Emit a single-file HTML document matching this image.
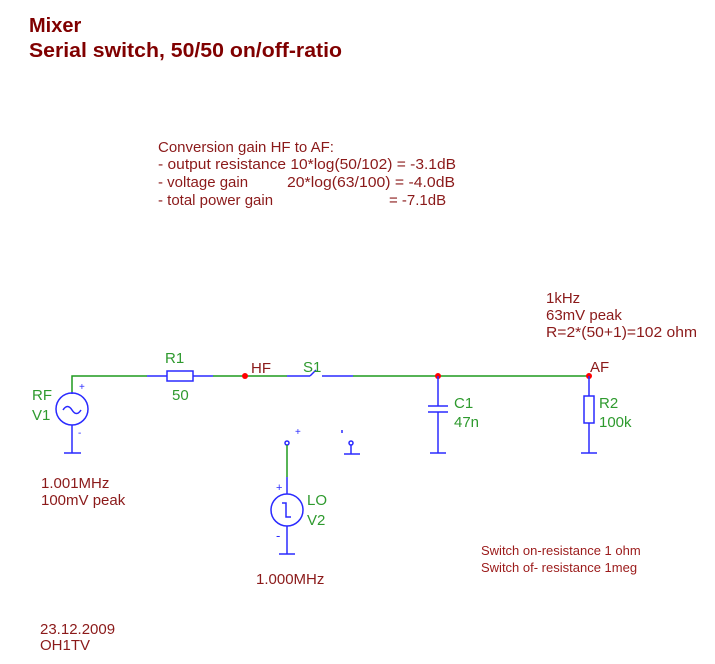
<!DOCTYPE html>
<html><head><meta charset="utf-8"><style>
html,body{margin:0;padding:0;background:#fff;}
svg{display:block;font-family:"Liberation Sans",Arial,sans-serif;}
.r{fill:#8b1a1a;font-size:15px;}
.g{fill:#2e9a2e;font-size:15px;}
.s{fill:#9b1a1a;font-size:13px;}
.b{stroke:#2a2aff;stroke-width:1.5;fill:none;}
.w{stroke:#1f9a1f;stroke-width:1.5;fill:none;}
</style></head><body>
<svg width="715" height="664" viewBox="0 0 715 664">
<text x="29" y="32" style="fill:#800000;font-size:20px;font-weight:bold">Mixer</text>
<text x="29" y="57" style="fill:#800000;font-size:20px;font-weight:bold" textLength="313" lengthAdjust="spacingAndGlyphs">Serial switch, 50/50 on/off-ratio</text>
<text class="r" x="158" y="152">Conversion gain HF to AF:</text>
<text class="r" x="158" y="169" textLength="298" lengthAdjust="spacingAndGlyphs">- output resistance 10*log(50/102) = -3.1dB</text>
<text class="r" x="158" y="187">- voltage gain</text>
<text class="r" x="287" y="187" textLength="168" lengthAdjust="spacingAndGlyphs">20*log(63/100) = -4.0dB</text>
<text class="r" x="158" y="205">- total power gain</text>
<text class="r" x="389" y="205">= -7.1dB</text>

<polyline class="w" points="72,392 72,376 147,376"/>
<line class="w" x1="213" y1="376" x2="287" y2="376"/>
<line class="w" x1="353" y1="376" x2="589" y2="376"/>
<line class="b" x1="72" y1="392" x2="72" y2="394"/>
<circle class="b" cx="72" cy="409" r="16"/>
<path class="b" d="M63,410 q4.5,-7 9,0 q4.5,7 9,0"/>
<line class="b" x1="72" y1="425" x2="72" y2="453"/>
<line class="b" x1="64" y1="453" x2="81" y2="453"/>
<text x="79" y="390" style="fill:#2a2aff;font-size:10px">+</text>
<text x="78" y="436" style="fill:#2a2aff;font-size:10px">-</text>
<line class="b" x1="147" y1="376" x2="167" y2="376"/>
<rect class="b" x="167" y="371" width="26" height="10"/>
<line class="b" x1="193" y1="376" x2="213" y2="376"/>
<line class="b" x1="287" y1="376" x2="310" y2="376"/>
<line class="b" x1="310" y1="376" x2="316" y2="370"/>
<line class="b" x1="322" y1="376" x2="353" y2="376"/>
<circle cx="245" cy="376" r="3" fill="#f00"/>
<circle cx="438" cy="376" r="3" fill="#f00"/>
<circle cx="589" cy="376" r="3" fill="#f00"/>
<line class="b" x1="438" y1="376" x2="438" y2="406"/>
<line class="b" x1="428" y1="406" x2="448" y2="406"/>
<line class="b" x1="428" y1="412" x2="448" y2="412"/>
<line class="b" x1="438" y1="412" x2="438" y2="453"/>
<line class="b" x1="430" y1="453" x2="446" y2="453"/>
<line class="b" x1="589" y1="376" x2="589" y2="396"/>
<rect class="b" x="584" y="396" width="10" height="27"/>
<line class="b" x1="589" y1="423" x2="589" y2="453"/>
<line class="b" x1="581" y1="453" x2="597" y2="453"/>
<circle class="b" cx="287" cy="443" r="2" stroke-width="1.2"/>
<line class="w" x1="287" y1="445" x2="287" y2="477"/>
<line class="b" x1="287" y1="477" x2="287" y2="494"/>
<circle class="b" cx="287" cy="510" r="16"/>
<path class="b" d="M282,503 h4 v14 h5"/>
<line class="b" x1="287" y1="526" x2="287" y2="554"/>
<line class="b" x1="279" y1="554" x2="295" y2="554"/>
<text x="276" y="491" style="fill:#2a2aff;font-size:11px">+</text>
<text x="276" y="540" style="fill:#2a2aff;font-size:13px">-</text>
<text x="295" y="435" style="fill:#2a2aff;font-size:10px">+</text>
<line class="b" x1="342" y1="430" x2="342" y2="433" stroke-width="1"/>
<circle class="b" cx="351" cy="443" r="2" stroke-width="1.2"/>
<line class="b" x1="351" y1="445" x2="351" y2="454"/>
<line class="b" x1="344" y1="454" x2="360" y2="454"/>

<text class="g" x="32" y="400">RF</text>
<text class="g" x="32" y="420">V1</text>
<text class="g" x="165" y="363">R1</text>
<text class="g" x="172" y="400">50</text>
<text class="r" x="251" y="373">HF</text>
<text class="g" x="303" y="372">S1</text>
<text class="g" x="307" y="505">LO</text>
<text class="g" x="307" y="525">V2</text>
<text class="g" x="454" y="408">C1</text>
<text class="g" x="454" y="427">47n</text>
<text class="g" x="599" y="408">R2</text>
<text class="g" x="599" y="427">100k</text>
<text class="r" x="590" y="372">AF</text>
<text class="r" x="546" y="303">1kHz</text>
<text class="r" x="546" y="320">63mV peak</text>
<text class="r" x="546" y="337" textLength="151" lengthAdjust="spacingAndGlyphs">R=2*(50+1)=102 ohm</text>
<text class="r" x="41" y="488">1.001MHz</text>
<text class="r" x="41" y="505">100mV peak</text>
<text class="r" x="256" y="584">1.000MHz</text>
<text class="r" x="40" y="634">23.12.2009</text>
<text class="r" x="40" y="650">OH1TV</text>
<text class="s" x="481" y="555">Switch on-resistance 1 ohm</text>
<text class="s" x="481" y="572">Switch of- resistance 1meg</text>
</svg>
</body></html>
